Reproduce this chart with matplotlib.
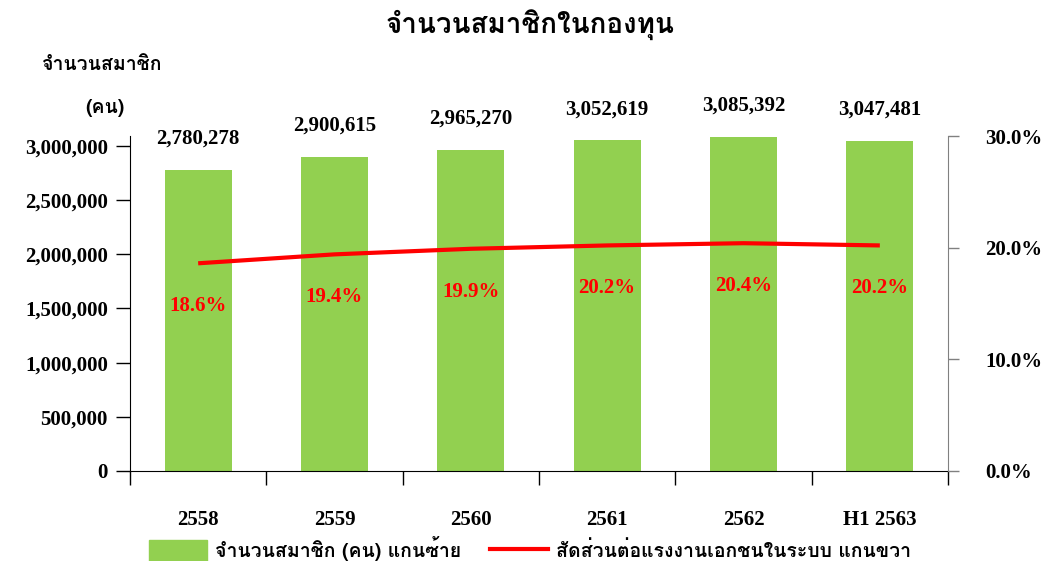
import matplotlib
matplotlib.use("Agg")
import matplotlib.pyplot as plt
from matplotlib import font_manager
from matplotlib.ft2font import FT2Font
from matplotlib.patches import Patch
from matplotlib.lines import Line2D
from matplotlib.ticker import FuncFormatter

# data
years = ['2558', '2559', '2560', '2561', '2562', 'H1 2563']
members = [2780278, 2900615, 2965270, 3052619, 3085392, 3047481]
ratio = [18.6, 19.4, 19.9, 20.2, 20.4, 20.2]

title = 'จำนวนสมาชิกในกองทุน'
ylabel1 = 'จำนวนสมาชิก'
ylabel2 = '(คน)'
leg_bar = 'จำนวนสมาชิก (คน) แกนซ้าย'
leg_line = 'สัดส่วนต่อแรงงานเอกชนในระบบ แกนขวา'

# find an installed font that has thai glyphs
thai_fonts = []
for f in font_manager.fontManager.ttflist:
    try:
        if FT2Font(f.fname).get_char_index(0x0E08) and f.name not in thai_fonts:
            thai_fonts.append(f.name)
    except Exception:
        pass
serif = ['Liberation Serif'] + thai_fonts + ['DejaVu Sans']
thai = thai_fonts + ['Liberation Serif', 'DejaVu Sans']

plt.rcParams['font.family'] = serif
plt.rcParams['font.weight'] = 'bold'

fig = plt.figure(figsize=(10.48, 5.61), dpi=100)
ax = fig.add_axes([130/1048, 1-471/561, (948-130)/1048, (471-136)/561])
ax2 = ax.twinx()

x = list(range(len(years)))
ax.bar(x, members, width=0.49, color='#92D050', zorder=2)
ax.set_xlim(-0.5, len(years)-0.5)
ax.set_ylim(0, 3092000)
ax.set_yticks([0, 500000, 1000000, 1500000, 2000000, 2500000, 3000000])
ax.yaxis.set_major_formatter(FuncFormatter(lambda v, p: f'{int(v):,}'))
ax.tick_params(axis='y', direction='out', length=10, width=1, labelsize=15, pad=6)
ax.set_xticks(x)
ax.set_xticklabels(years, fontsize=15, fontweight='bold')
ax.tick_params(axis='x', length=0, pad=28)
ax.set_xticks([i-0.5 for i in range(len(years)+1)], minor=True)
ax.tick_params(axis='x', which='minor', direction='out', length=10, width=1)
for s in ['top', 'right']:
    ax.spines[s].set_visible(False)

for i, v in enumerate(members):
    ax.annotate(f'{v:,}', (i, v), xytext=(0, 15), textcoords='offset points',
                ha='center', va='bottom', fontsize=15, fontweight='bold', color='black')

ax2.plot(x, ratio, color='#FF0000', linewidth=3, solid_capstyle='butt', zorder=3)
ax2.set_ylim(0, 30)
ax2.set_yticks([0, 10, 20, 30])
ax2.yaxis.set_major_formatter(FuncFormatter(lambda v, p: f'{v:.1f}%'))
ax2.tick_params(axis='y', direction='out', length=8, width=1, labelsize=15, pad=19, color='#808080')
for s in ['top', 'left', 'bottom']:
    ax2.spines[s].set_visible(False)
ax2.spines['right'].set_color('#808080')
for i, v in enumerate(ratio):
    ax2.annotate(f'{v:.1f}%', (i, v), xytext=(0, -31), textcoords='offset points',
                 ha='center', va='center', fontsize=15, fontweight='bold', color='#FF0000')

fig.text(530/1048, 1-25/561, title, ha='center', va='center', fontsize=20,
         fontweight='bold', family=thai)
fig.text(42/1048, 1-65/561, ylabel1, ha='left', va='center', fontsize=14,
         fontweight='bold', family=thai)
fig.text(105/1048, 1-108/561, ylabel2, ha='center', va='center', fontsize=14,
         fontweight='bold', family=thai)

handles = [Patch(color='#92D050'), Line2D([0], [0], color='#FF0000', linewidth=3)]
leg = fig.legend(handles, [leg_bar, leg_line], loc='center', bbox_to_anchor=(530/1048, 1-549/561),
                 ncol=2, frameon=False, prop={'family': thai, 'size': 14, 'weight': 'bold'},
                 handlelength=3, handleheight=1.3, columnspacing=1.5, handletextpad=0.4)

fig.savefig('out.png', dpi=100)
